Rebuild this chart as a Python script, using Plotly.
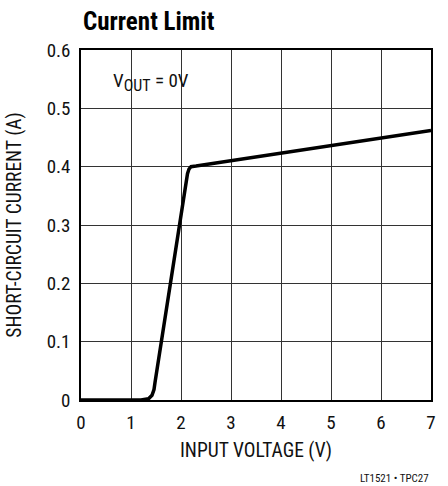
import plotly.graph_objects as go

# Data
input_voltage = [0, 1.2, 1.35, 1.42, 1.46, 1.48, 2.13, 2.16, 2.20, 2.30, 7.0]
short_circuit_current = [0, 0, 0.002, 0.008, 0.018, 0.03, 0.388, 0.396, 0.400, 0.401, 0.462]

x_ticks = [0, 1, 2, 3, 4, 5, 6, 7]
y_ticks = [0, 0.1, 0.2, 0.3, 0.4, 0.5, 0.6]
y_tick_labels = ["0", "0.1", "0.2", "0.3", "0.4", "0.5", "0.6"]

FONT = "Roboto Condensed, DejaVu Sans Condensed, sans-serif"

fig = go.Figure()
fig.add_trace(go.Scatter(
    x=input_voltage, y=short_circuit_current, mode="lines",
    line=dict(color="black", width=3.5), showlegend=False, hoverinfo="skip"))

fig.update_layout(
    width=448, height=486,
    margin=dict(l=81, r=15, t=50, b=86),
    paper_bgcolor="white", plot_bgcolor="white",
    font=dict(family=FONT, size=18, color="black"),
    title=dict(text="<b>Current Limit</b>", x=83/448, xanchor="left",
               y=1-21/486, yanchor="middle", font=dict(size=25, family=FONT)),
    xaxis=dict(range=[0, 7], tickvals=x_ticks, showgrid=True, gridcolor="#333",
               gridwidth=1, zeroline=False, showline=True, linecolor="black",
               linewidth=1.5, mirror=True, ticks="", ticklen=0, ticklabelstandoff=4,
               tickfont=dict(size=19, color="#111"),
               title=dict(text="INPUT VOLTAGE (V)", standoff=11,
                          font=dict(size=19.5, color="#111"))),
    yaxis=dict(range=[0, 0.6], tickvals=y_ticks, ticktext=y_tick_labels,
               showgrid=True, gridcolor="#333", gridwidth=1, zeroline=False,
               showline=True, linecolor="black", linewidth=1.5, mirror=True,
               ticks="", ticklen=0, ticklabelstandoff=5,
               tickfont=dict(size=19, color="#111"),
               title=dict(text="SHORT-CIRCUIT CURRENT (A)", standoff=20,
                          font=dict(size=19.5, color="#111"))),
    annotations=[
        dict(text="V<sub><span style='font-size:16px'>OUT</span></sub> = 0V",
             x=0.6, y=0.545, xref="x", yref="y",
             showarrow=False, font=dict(size=19, family=FONT, color="#111"),
             xanchor="left"),
        dict(text="LT1521 • TPC27", x=1.0, y=-(478 - 400) / 350, xref="paper",
             yref="paper", xanchor="right", yanchor="middle", showarrow=False,
             font=dict(size=11, family=FONT, color="#111")),
    ],
)

fig.write_html("out.html", config={"displayModeBar": False},
               post_script="document.body.style.margin='0';")
